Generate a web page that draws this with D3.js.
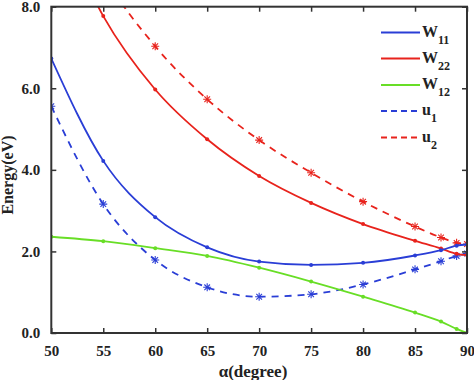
<!DOCTYPE html>
<html><head><meta charset="utf-8">
<script src="https://cdn.jsdelivr.net/npm/d3@7"></script>
<style>body{margin:0;background:#fff}svg{display:block}</style>
</head><body>
<svg id="c" width="474" height="380"></svg>
<script>
const angles = [50, 55, 60, 65, 70, 75, 80, 85, 87.5, 89, 90];
const W11 = [6.73, 4.22, 2.84, 2.10, 1.75, 1.67, 1.72, 1.90, 2.03, 2.14, 2.17];
const W22 = [10.5, 7.77, 5.97, 4.75, 3.85, 3.19, 2.67, 2.26, 2.07, 1.94, 1.91];
const W12 = [2.36, 2.25, 2.08, 1.89, 1.60, 1.26, 0.89, 0.50, 0.28, 0.10, 0.0];
const u1 = [5.56, 3.16, 1.79, 1.12, 0.89, 0.95, 1.19, 1.56, 1.76, 1.89, 1.95];
const u2 = [11.5, 8.8, 7.03, 5.73, 4.73, 3.93, 3.22, 2.61, 2.34, 2.21, 2.18];
const xTicks = [50, 55, 60, 65, 70, 75, 80, 85, 90];
const yTicks = [0, 2, 4, 6, 8];
const seriesNames = ["W11", "W22", "W12", "u1", "u2"];

const colors = {W11: "#2a3ed6", W22: "#e8231c", W12: "#68de26", u1: "#2a3ed6", u2: "#e8231c"};
const dashed = {W11: false, W22: false, W12: false, u1: true, u2: true};
const values = {W11, W22, W12, u1, u2};

const svg = d3.select("#c");
const m = {l: 51.3, r: 7, t: 6.7, b: 47};
const W = 474, H = 380;
const x = d3.scaleLinear().domain([50, 90]).range([m.l, W - m.r]);
const y = d3.scaleLinear().domain([0, 8]).range([H - m.b, m.t]);
const font = "'Liberation Serif', 'Times New Roman', serif";

svg.append("defs").append("clipPath").attr("id", "clip")
  .append("rect").attr("x", m.l).attr("y", m.t).attr("width", x(90) - m.l).attr("height", y(0) - m.t);

const g = svg.append("g").attr("clip-path", "url(#clip)");
const line = d3.line().x((d, i) => x(angles[i])).y(d => y(d)).curve(d3.curveMonotoneX);

["u2", "u1", "W12", "W22", "W11"].forEach(k => {
  g.append("path").datum(values[k])
    .attr("d", line).attr("fill", "none")
    .attr("stroke", colors[k]).attr("stroke-width", 1.8)
    .attr("stroke-dasharray", dashed[k] ? "7,6" : null);
  values[k].forEach((v, i) => {
    const cx = x(angles[i]), cy = y(v);
    if (dashed[k]) {
      const r = 4;
      const s = g.append("g").attr("transform", `translate(${cx},${cy})`)
        .attr("stroke", colors[k]).attr("stroke-width", 1.1);
      [0, 45, 90, 135].forEach(a => {
        const rad = a * Math.PI / 180;
        s.append("line").attr("x1", -r * Math.cos(rad)).attr("y1", -r * Math.sin(rad))
          .attr("x2", r * Math.cos(rad)).attr("y2", r * Math.sin(rad));
      });
    } else {
      g.append("circle").attr("cx", cx).attr("cy", cy).attr("r", 2).attr("fill", colors[k]);
    }
  });
});

const axisColor = "#333";
svg.append("rect").attr("x", m.l).attr("y", m.t).attr("width", x(90) - m.l).attr("height", y(0) - m.t)
  .attr("fill", "none").attr("stroke", axisColor).attr("stroke-width", 2);

const xAxis = d3.axisBottom(x).tickValues(xTicks).tickSizeInner(-5).tickSizeOuter(0).tickPadding(12).tickFormat(d3.format("d"));
svg.append("g").attr("transform", `translate(0,${y(0)})`).call(xAxis);
const yAxis = d3.axisLeft(y).tickValues(yTicks).tickSizeInner(-5).tickSizeOuter(0).tickPadding(11).tickFormat(d3.format(".1f"));
svg.append("g").attr("transform", `translate(${m.l},0)`).call(yAxis);
const xTop = d3.axisTop(x).tickValues(xTicks).tickSizeInner(-5).tickSizeOuter(0).tickFormat("");
svg.append("g").attr("transform", `translate(0,${m.t})`).call(xTop);
const yRight = d3.axisRight(y).tickValues(yTicks).tickSizeInner(-5).tickSizeOuter(0).tickFormat("");
svg.append("g").attr("transform", `translate(${x(90)},0)`).call(yRight);
svg.selectAll(".domain").remove();
svg.selectAll(".tick line").attr("stroke", axisColor).attr("stroke-width", 1.5);
svg.selectAll(".tick text").attr("font-family", font).attr("font-weight", "bold")
  .attr("font-size", 15).attr("fill", "#222");

svg.append("text").attr("x", 253).attr("y", 377).attr("text-anchor", "middle")
  .attr("font-family", font).attr("font-weight", "bold").attr("font-size", 17).attr("fill", "#222")
  .text("α(degree)");
svg.append("text").attr("transform", "translate(13,175) rotate(-90)").attr("text-anchor", "middle")
  .attr("font-family", font).attr("font-weight", "bold").attr("font-size", 16).attr("fill", "#222")
  .text("Energy(eV)");

const legY = [32.5, 58.5, 85, 111, 137.5];
const lg = svg.append("g");
seriesNames.forEach((k, i) => {
  const yy = legY[i];
  lg.append("line").attr("x1", 381).attr("x2", 420).attr("y1", yy).attr("y2", yy)
    .attr("stroke", colors[k]).attr("stroke-width", 1.8)
    .attr("stroke-dasharray", dashed[k] ? "6,4" : null);
  const t = lg.append("text").attr("x", 422).attr("y", yy + 4)
    .attr("font-family", font).attr("font-weight", "bold").attr("font-size", 16).attr("fill", "#222");
  t.append("tspan").text(k.charAt(0));
  t.append("tspan").attr("dy", 7).attr("font-size", 12).text(k.slice(1));
});
</script>
</body></html>
